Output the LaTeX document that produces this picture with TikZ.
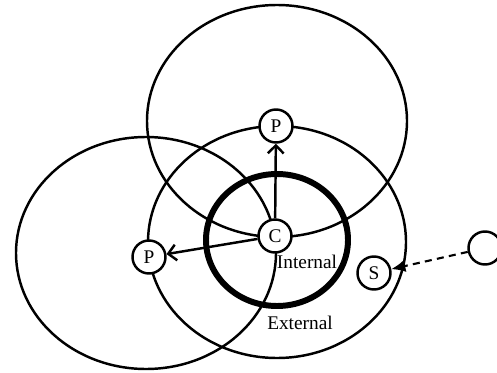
\documentclass[tikz,border=0pt]{standalone}
\usepackage{fontspec}
\setmainfont{Liberation Serif}
\usepackage{tikz}
\usetikzlibrary{arrows.meta, positioning}
\tikzset{
  zone/.style={draw=black, line width=1.4pt},
  core/.style={draw=black, line width=3.4pt},
  agent/.style={circle, draw=black, fill=white, line width=1.4pt,
    minimum size=0.66cm, inner sep=0pt, font=\fontsize{11}{13}\selectfont},
  label/.style={font=\fontsize{11}{13}\selectfont},
  arrow/.style={-{Straight Barb[length=4.5pt,width=9pt]}, line width=1.4pt},
  dasharrow/.style={-{Latex[length=8pt,width=7pt]}, line width=1.2pt,
    dash pattern=on 4pt off 3pt}
}
\begin{document}
\begin{tikzpicture}[x=0.02cm, y=-0.02cm]
  \useasboundingbox (0,0) rectangle (497,372);

  % Regions
  \draw[zone] (277,121) ellipse [x radius=130, y radius=116];
  \draw[zone] (146,253) ellipse [x radius=130, y radius=116];
  \draw[zone] (277,242) ellipse [x radius=129, y radius=116];
  \draw[core] (277,240) ellipse [x radius=71, y radius=66];

  % Nodes
  \node[agent] (ctr) at (275,236) {C};
  \node[agent] (ptop) at (276,126) {P};
  \node[agent] (pleft) at (149,257) {P};
  \node[agent] (srv) at (374,273) {S};
  \node[agent] (far) at (485,248) {};

  % Labels
  \node[label] (inlbl) at (307,262) {Internal};
  \node[label] (exlbl) at (300,323) {External};

  % Links
  \draw[arrow] (ctr) -- (ptop);
  \draw[arrow] (ctr) -- (pleft);
  \draw[dasharrow] (far) -- (srv);
\end{tikzpicture}
\end{document}
